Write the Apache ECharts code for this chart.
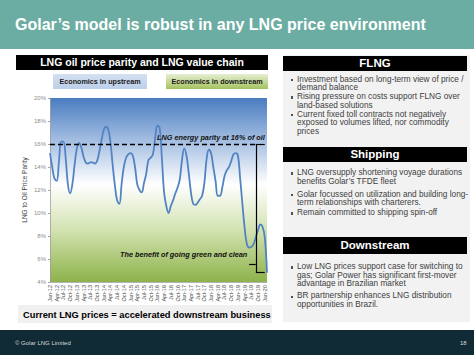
<!DOCTYPE html>
<html>
<head>
<meta charset="utf-8">
<script src="https://cdn.jsdelivr.net/npm/echarts@6/dist/echarts.min.js"></script>
<style>
  html, body { margin:0; padding:0; width:474px; height:355px; overflow:hidden; background:#ffffff; font-family:"Liberation Sans", Arial, sans-serif; }
  .abs { position:absolute; }
  #chart { position:absolute; left:0; top:0; width:474px; height:355px; z-index:1; }
  .top { z-index:2; }
  .bar { background:#000; color:#fff; font-weight:bold; text-align:center; }
  .bl { position:absolute; left:291px; width:4px; font-size:8.25px; line-height:8.6px; color:#404040; z-index:2; }
  .bl::before { content:""; position:absolute; left:0; top:3.2px; width:2.4px; height:2.4px; background:#505050; }
  .bl span { position:absolute; left:6px; white-space:nowrap; }
</style>
</head>
<body>
<!-- header -->
<div class="abs" style="left:0;top:0;width:474px;height:49px;background:#6cada3;"></div>
<div class="abs top" style="left:15px;top:15px;font-size:16px;line-height:20px;font-weight:bold;color:#fff;white-space:nowrap;">Golar’s model is robust in any LNG price environment</div>

<!-- left panel -->
<div class="abs bar top" style="left:16px;top:55px;width:252px;height:15px;font-size:10.5px;line-height:15px;">LNG oil price parity and LNG value chain</div>
<div class="abs top" style="left:53px;top:74px;width:94px;height:15px;background:linear-gradient(#d3e0f1,#bccfe9);font-size:7.2px;line-height:15px;font-weight:bold;color:#1a1a1a;text-align:center;">Economics in upstream</div>
<div class="abs top" style="left:166px;top:74px;width:102px;height:15px;background:linear-gradient(#e6efd3,#a3c25d);font-size:7.2px;line-height:15px;font-weight:bold;color:#1a1a1a;text-align:center;">Economics in downstream</div>

<div class="abs top" style="left:157px;top:133px;font-size:7.3px;line-height:9px;font-weight:bold;font-style:italic;color:#111;white-space:nowrap;">LNG energy parity at 16% of oil</div>
<div class="abs top" style="left:120px;top:249.5px;font-size:7.3px;line-height:9px;font-weight:bold;font-style:italic;color:#111;white-space:nowrap;">The benefit of going green and clean</div>

<div class="abs" style="left:18px;top:305px;width:254px;height:18px;background:#f0f0f0;"></div>
<div class="abs top" style="left:23px;top:309px;font-size:9.3px;line-height:12px;font-weight:bold;color:#000;white-space:nowrap;">Current LNG prices = accelerated downstream business</div>

<!-- right panel -->
<div class="abs" style="left:283px;top:55px;width:187px;height:267px;background:#f2f2f2;"></div>
<div class="abs bar top" style="left:283px;top:56px;width:184px;height:15px;font-size:11.5px;line-height:15px;">FLNG</div>
<div class="abs bar top" style="left:283px;top:147px;width:184px;height:15px;font-size:11.5px;line-height:15px;">Shipping</div>
<div class="abs bar top" style="left:283px;top:237px;width:184px;height:17px;font-size:11.5px;line-height:17px;">Downstream</div>

<div class="bl" style="top:75.5px;"><span>Investment based on long-term view of price /<br>demand balance</span></div>
<div class="bl" style="top:93px;"><span>Rising pressure on costs support FLNG over<br>land-based solutions</span></div>
<div class="bl" style="top:110.5px;"><span>Current fixed toll contracts not negatively<br>exposed to volumes lifted, nor commodity<br>prices</span></div>

<div class="bl" style="top:169px;"><span>LNG oversupply shortening voyage durations<br>benefits Golar’s TFDE fleet</span></div>
<div class="bl" style="top:190.7px;"><span>Golar focussed on utilization and building long-<br>term relationships with charterers.</span></div>
<div class="bl" style="top:209px;"><span>Remain committed to shipping spin-off</span></div>

<div class="bl" style="top:263px;"><span>Low LNG prices support case for switching to<br>gas; Golar Power has significant first-mover<br>advantage in Brazilian market</span></div>
<div class="bl" style="top:292.4px;"><span>BR partnership enhances LNG distribution<br>opportunities in Brazil.</span></div>

<!-- footer -->
<div class="abs" style="left:0;top:330px;width:474px;height:25px;background:#102b36;"></div>
<div class="abs top" style="left:15px;top:339px;font-size:6px;line-height:8px;color:#d8d8d8;white-space:nowrap;">© Golar LNG Limited</div>
<div class="abs top" style="left:460px;top:339px;font-size:6px;line-height:8px;color:#d8d8d8;">18</div>

<div id="chart"></div>
<script>
// ---- data ----
const monthNames = ['Jan','Feb','Mar','Apr','May','Jun','Jul','Aug','Sep','Oct','Nov','Dec'];
const years = ['12','13','14','15','16','17','18','19','20'];
const parity2012 = [15.2, 14.0, 13.0, 12.8, 14.5, 16.2, 16.2, 14.8, 12.5, 11.7, 12.5, 14.2];
const parity2013 = [15.6, 16.1, 15.7, 14.9, 14.4, 14.3, 14.4, 14.4, 14.3, 14.5, 15.3, 16.3];
const parity2014 = [17.2, 17.5, 17.3, 16.2, 14.2, 12.4, 11.1, 10.8, 12.5, 14.0, 14.8, 15.1];
const parity2015 = [15.2, 15.0, 14.0, 12.5, 12.0, 11.8, 12.6, 13.4, 14.6, 14.8, 15.1, 16.5];
const parity2016 = [17.6, 17.4, 14.8, 11.8, 10.6, 10.0, 10.6, 11.1, 11.7, 12.2, 12.9, 14.6];
const parity2017 = [15.6, 15.0, 13.5, 11.8, 10.8, 10.7, 10.9, 11.2, 11.5, 12.6, 14.7, 15.5];
const parity2018 = [15.2, 14.0, 12.8, 11.5, 11.5, 12.2, 13.2, 13.7, 14.0, 14.5, 15.1, 15.2];
const parity2019 = [15.0, 13.0, 10.8, 8.7, 7.3, 7.0, 7.05, 7.3, 7.9, 8.5, 9.0, 8.8];
const parity2020 = [7.9, 4.8];
const yTicks = [4, 6, 8, 10, 12, 14, 16, 18, 20];
const parityLevel = 16;
const braceBottom = 4.87;
const braceTip = 5.56;

const values = [].concat(parity2012, parity2013, parity2014, parity2015, parity2016, parity2017, parity2018, parity2019, parity2020);
const categories = [];
years.forEach(y => monthNames.forEach(m => categories.push(m + '-' + y)));
categories.length = values.length;

const chart = echarts.init(document.getElementById('chart'), null, {renderer:'svg'});
const blk = {color:'#000', width:1.2, type:'solid'};
chart.setOption({
  animation:false,
  textStyle:{fontFamily:'Liberation Sans, Arial, sans-serif'},
  grid:{left:50, right:207, top:98, bottom:73, show:true, borderWidth:0,
    backgroundColor:{type:'linear', x:0, y:0, x2:0, y2:1, colorStops:[
      {offset:0, color:'#4a7cc1'},
      {offset:0.22, color:'#9fbbe0'},
      {offset:0.47, color:'#ffffff'},
      {offset:0.72, color:'#d2e2b0'},
      {offset:1, color:'#8db24a'}]}},
  xAxis:{type:'category', data:categories, boundaryGap:false,
    axisLine:{show:true, lineStyle:{color:'#a0a0a0', width:0.8}},
    axisTick:{show:false},
    axisLabel:{interval:2, rotate:90, fontSize:5.5, color:'#4a4a4a', margin:3}},
  yAxis:{type:'value', min:yTicks[0], max:yTicks[yTicks.length-1], interval:2,
    splitLine:{show:false},
    axisLine:{show:true, lineStyle:{color:'#a0a0a0', width:0.8}},
    axisTick:{show:true, length:2, lineStyle:{color:'#a0a0a0'}},
    axisLabel:{formatter:'{value}%', fontSize:6, color:'#8c8c8c', margin:4},
    name:'LNG to Oil Price Parity', nameLocation:'middle', nameRotate:90, nameGap:22,
    nameTextStyle:{fontSize:6.5, color:'#404040'}},
  series:[{
    type:'line', data:values, smooth:0.4, symbol:'none',
    lineStyle:{color:'#5283c2', width:1.8},
    markLine:{silent:true, symbol:'none', label:{show:false},
      data:[
        [{coord:[categories[0], parityLevel], lineStyle:{color:'#000', width:1.4, type:[5,3]}}, {coord:[categories[92], parityLevel]}],
        [{coord:[categories[92], parityLevel], lineStyle:blk}, {coord:[categories[96], parityLevel]}],
        [{coord:[categories[92], parityLevel], lineStyle:blk}, {coord:[categories[92], braceBottom]}],
        [{coord:[categories[89], braceTip], lineStyle:blk}, {coord:[categories[92], braceTip]}],
        [{coord:[categories[92], braceBottom], lineStyle:blk}, {coord:[categories[96], braceBottom]}]
      ]}
  }]
});
</script>
</body>
</html>
